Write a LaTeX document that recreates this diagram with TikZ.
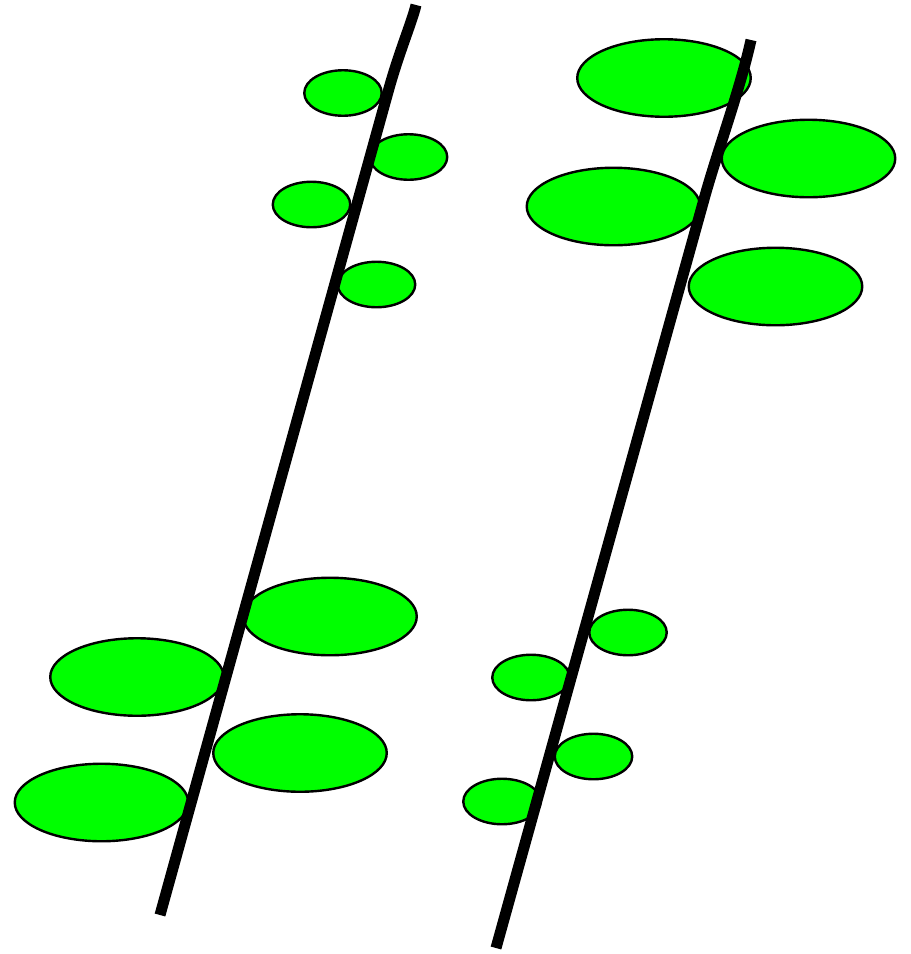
\documentclass[tikz,border=0pt]{standalone}
\usetikzlibrary{shapes.geometric}
\definecolor{leafgreen}{RGB}{0,255,0}
\begin{document}
\begin{tikzpicture}[x=1pt,y=-1pt,
  leaf/.style={ellipse,draw=black,fill=leafgreen,line width=2.4pt,inner sep=0pt},
  smallleaf/.style={leaf,minimum width=77.5pt,minimum height=45.5pt},
  bigleaf/.style={leaf,minimum width=173.5pt,minimum height=77.5pt},
  stem/.style={draw=black,line width=11pt,line cap=butt}]
\useasboundingbox (0,0) rectangle (911,954);
% left plant leaves
\node[smallleaf] (l1) at (343,93) {};
\node[smallleaf] (l2) at (408.5,157) {};
\node[smallleaf] (l3) at (311.5,204.5) {};
\node[smallleaf] (l4) at (376.5,284.5) {};
\node[bigleaf] (l5) at (330,616.5) {};
\node[bigleaf] (l6) at (137,677) {};
\node[bigleaf] (l7) at (300,753) {};
\node[bigleaf] (l8) at (101.5,802.5) {};
% right plant leaves
\node[bigleaf] (r1) at (664,78) {};
\node[bigleaf] (r2) at (808.5,158.5) {};
\node[bigleaf] (r3) at (613.5,206.5) {};
\node[bigleaf] (r4) at (775.5,286.5) {};
\node[smallleaf] (r5) at (628,632.5) {};
\node[smallleaf] (r6) at (531,677.5) {};
\node[smallleaf] (r7) at (593.5,756.5) {};
\node[smallleaf] (r8) at (502,801.5) {};
% stems
\coordinate (lb) at (160,915);
\coordinate (lm) at (388,92);
\coordinate (lt) at (416,5);
\coordinate (rb) at (496,948);
\coordinate (rm) at (703,203);
\coordinate (rt) at (751,40);
\draw[stem] (lb) -- (lm) .. controls (399,52) and (412,22) .. (lt);
\draw[stem] (rb) -- (rm) .. controls (716,155) and (740,90) .. (rt);
\end{tikzpicture}
\end{document}
